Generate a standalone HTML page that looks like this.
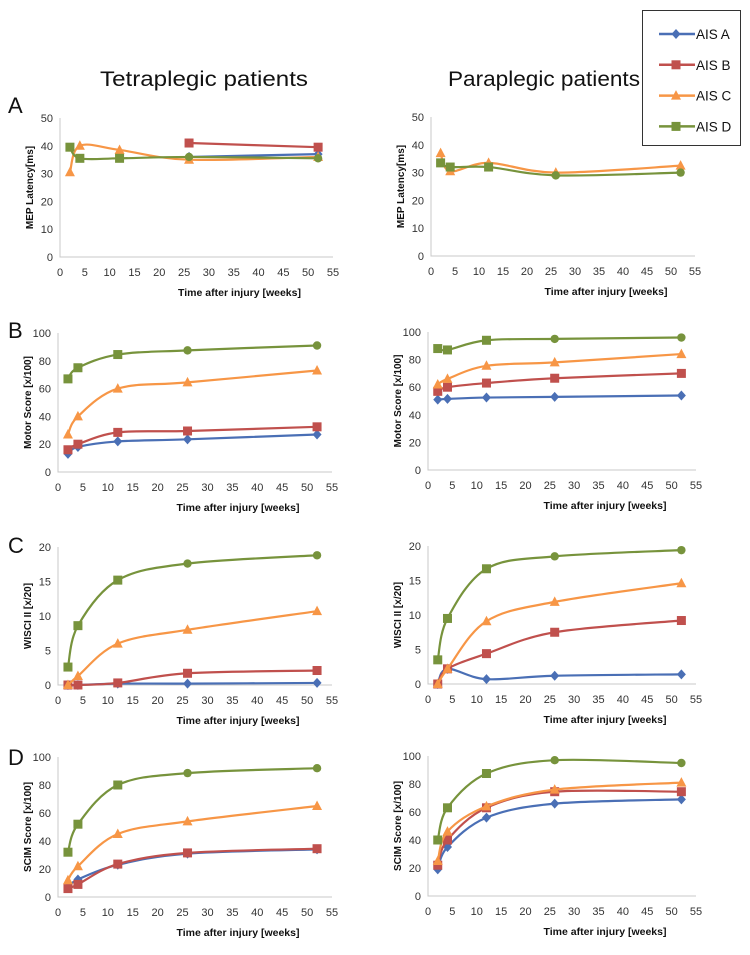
<!DOCTYPE html><html><head><meta charset="utf-8"><style>body{margin:0;background:#fff;width:750px;height:950px;overflow:hidden;font-family:"Liberation Sans",sans-serif}</style></head><body>
<svg id="s" width="750" height="950" xmlns="http://www.w3.org/2000/svg" font-family="Liberation Sans, sans-serif"></svg>
<script>
const S=document.getElementById('s');let h='';
const col=['#4a6fb5','#c0504d','#f79646','#77933c'];
const X=[2,4,12,26,52];
const panels=[
 {L:60,R:333,b:257,t:118,max:50,step:10,lab:'MEP Latency[ms]',d:[[null,null,null,36,37],[null,null,null,41,39.5],[30.5,40,38.5,35,36],[39.5,35.5,35.5,36,35.5]]},
 {L:431,R:695,b:256,t:117,max:50,step:10,lab:'MEP Latency[ms]',d:[[],[],[37,30.5,33.5,30,32.5],[33.5,32,32,29,30]]},
 {L:58,R:332,b:472,t:333,max:100,step:20,lab:'Motor Score [x/100]',d:[[13,18,22,23.5,27],[16,20,28.5,29.5,32.5],[27,40,60,64.5,73],[67,75,84.5,87.5,91]]},
 {L:428,R:696,b:470,t:332,max:100,step:20,lab:'Motor Score [x/100]',d:[[51,51.5,52.5,53,54],[57,60,63,66.5,70],[62,66,75.5,78,84],[88,87,94,95,96]]},
 {L:58,R:332,b:685,t:547,max:20,step:5,lab:'WISCI II [x/20]',d:[[0,0,0.2,0.2,0.3],[0,0,0.3,1.7,2.1],[0,1.3,6,8,10.7],[2.6,8.6,15.2,17.6,18.8]]},
 {L:428,R:696,b:684,t:546,max:20,step:5,lab:'WISCI II [x/20]',d:[[0,2.2,0.7,1.2,1.4],[0,2.2,4.4,7.5,9.2],[0,2.2,9.1,11.9,14.6],[3.5,9.5,16.7,18.5,19.4]]},
 {L:58,R:332,b:897,t:757,max:100,step:20,lab:'SCIM Score [x/100]',d:[[7,12.5,23,31,34],[6,9,23.5,31.5,34.5],[12,22,45,54,65],[32,52,80,88.5,92]]},
 {L:428,R:696,b:896,t:756,max:100,step:20,lab:'SCIM Score [x/100]',d:[[19,35,56,66,69],[22,40,63,74.5,74.5],[25,46,64,76,81],[40,63,87.5,97,95]]}];
function mk(i,x,y,j){const c=col[i];
 if(i==0)return `<path d="M${x} ${y-5}L${x+4.5} ${y}L${x} ${y+5}L${x-4.5} ${y}Z" fill="${c}"/>`;
 if(i==1||(i==3&&j<3))return `<rect x="${x-4.5}" y="${y-4.5}" width="9" height="9" fill="${c}"/>`;
 if(i==2)return `<path d="M${x} ${y-5.5}L${x+5} ${y+4}L${x-5} ${y+4}Z" fill="${c}"/>`;
 return `<circle cx="${x}" cy="${y}" r="4.2" fill="${c}"/>`;}
for(const p of panels){
 const sx=v=>p.L+(p.R-p.L)*v/55, sy=v=>p.b-(p.b-p.t)*v/p.max;
 h+=`<path d="M${p.L} ${p.t}V${p.b}H${p.R}" stroke="#c8c8c8" fill="none"/>`;
 for(let v=0;v<=p.max;v+=p.step)h+=`<text x="${p.L-7}" y="${sy(v)+4}" font-size="11" text-anchor="end" fill="#333">${v}</text>`;
 for(let v=0;v<=55;v+=5)h+=`<text x="${sx(v)}" y="${p.b+19}" font-size="11" text-anchor="middle" fill="#333">${v}</text>`;
 h+=`<text x="${(p.L+p.R)/2+43}" y="${p.b+39}" font-size="10.5" font-weight="bold" text-anchor="middle" fill="#111">Time after injury [weeks]</text>`;
 const yc=(p.t+p.b)/2;h+=`<text transform="translate(${p.L-27},${yc}) rotate(-90)" font-size="10" font-weight="bold" text-anchor="middle" fill="#111">${p.lab}</text>`;
 p.d.forEach((arr,i)=>{const pts=[];X.forEach((x,j)=>{if(arr[j]!=null&&arr[j]!==undefined)pts.push([sx(x),sy(arr[j]),j])});
  if(pts.length<2)return;let d=`M${pts[0][0]} ${pts[0][1]}`;
  for(let k=0;k<pts.length-1;k++){const p0=pts[k-1]||pts[k],p1=pts[k],p2=pts[k+1],p3=pts[k+2]||p2,t=6;
   d+=`C${p1[0]+(p2[0]-p0[0])/t} ${p1[1]+(p2[1]-p0[1])/t} ${p2[0]-(p3[0]-p1[0])/t} ${p2[1]-(p3[1]-p1[1])/t} ${p2[0]} ${p2[1]}`;}
  h+=`<path d="${d}" stroke="${col[i]}" stroke-width="2.2" fill="none"/>`;
  pts.forEach(q=>h+=mk(i,q[0],q[1],q[2]));});
}
h+=`<text x="100" y="86" font-size="21" textLength="208" lengthAdjust="spacingAndGlyphs" fill="#111">Tetraplegic patients</text>`;
h+=`<text x="448" y="86" font-size="21" textLength="192" lengthAdjust="spacingAndGlyphs" fill="#111">Paraplegic patients</text>`;
[['A',113],['B',338],['C',553],['D',765]].forEach(a=>h+=`<text x="8" y="${a[1]}" font-size="22" fill="#111">${a[0]}</text>`);
h+=`<rect x="642.5" y="10.5" width="98" height="135" fill="#fff" stroke="#333"/>`;
['AIS A','AIS B','AIS C','AIS D'].forEach((n,i)=>{const y=34+i*30.8;h+=`<line x1="659" y1="${y}" x2="695" y2="${y}" stroke="${col[i]}" stroke-width="2.5"/>`+mk(i,676,y,0)+`<text x="696" y="${y+5}" font-size="13.5" fill="#111">${n}</text>`;});
S.innerHTML=h;
</script></body></html>
